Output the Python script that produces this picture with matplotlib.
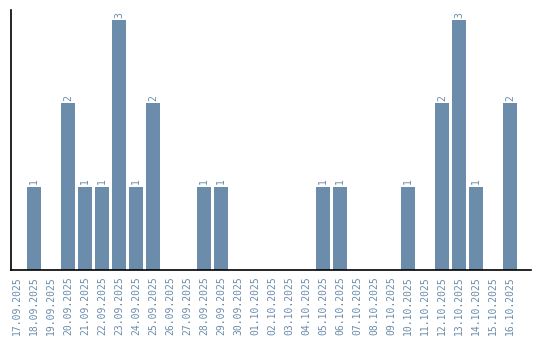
import matplotlib
matplotlib.use("Agg")
import matplotlib.pyplot as plt

# ── Data ────────────────────────────────────────────────────────────────────

dates = [
    "17.09.2025", "18.09.2025", "19.09.2025", "20.09.2025", "21.09.2025",
    "22.09.2025", "23.09.2025", "24.09.2025", "25.09.2025", "26.09.2025",
    "27.09.2025", "28.09.2025", "29.09.2025", "30.09.2025", "01.10.2025",
    "02.10.2025", "03.10.2025", "04.10.2025", "05.10.2025", "06.10.2025",
    "07.10.2025", "08.10.2025", "09.10.2025", "10.10.2025", "11.10.2025",
    "12.10.2025", "13.10.2025", "14.10.2025", "15.10.2025", "16.10.2025",
]
counts = [0, 1, 0, 2, 1, 1, 3, 1, 2, 0,
          0, 1, 1, 0, 0, 0, 0, 0, 1, 1,
          0, 0, 0, 1, 0, 2, 3, 1, 0, 2]

BAR = "#6b8cab"

# ── Chart ───────────────────────────────────────────────────────────────────

fig = plt.figure(figsize=(5.4, 3.4), dpi=100)
ax = fig.add_axes([10.5 / 540, 70 / 340, 520 / 540, 260 / 340])

x = list(range(len(dates)))
bars = ax.bar(x, counts, width=0.82, color=BAR)

for bar, val in zip(bars, counts):
    if val:
        ax.text(bar.get_x() + bar.get_width() / 2, val + 0.03, str(val),
                rotation=90, ha="center", va="bottom",
                fontsize=7, family="DejaVu Sans Mono", color=BAR)

ax.set_xlim(-0.38, 30.2)
ax.set_ylim(0, 3.12)
ax.set_xticks(x)
ax.set_xticklabels(dates, rotation=90, fontsize=7,
                   family="DejaVu Sans Mono", color=BAR)
ax.set_yticks([])
ax.tick_params(axis="x", length=0, pad=4.5)

for side in ("top", "right"):
    ax.spines[side].set_visible(False)
for side in ("left", "bottom"):
    ax.spines[side].set_color("black")
    ax.spines[side].set_linewidth(1.2)

fig.savefig("out.png", dpi=100)
